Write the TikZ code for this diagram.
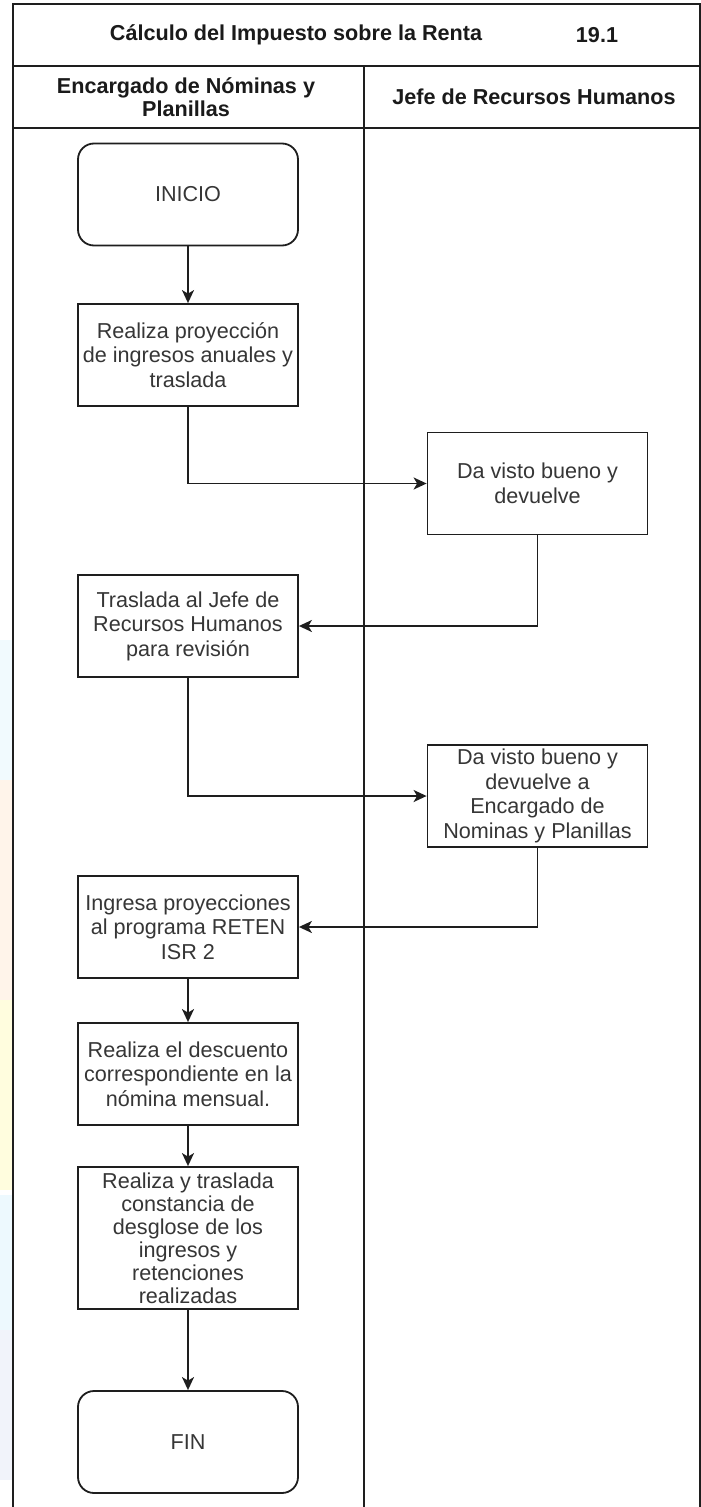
\documentclass[tikz,border=0pt]{standalone}
\usepackage{fontspec}
\setmainfont{Liberation Sans}
\usetikzlibrary{arrows.meta}
\definecolor{linec}{HTML}{1E1E1E}
\definecolor{textc}{HTML}{363636}
\definecolor{headc}{HTML}{1A1A1A}
\tikzset{
  stepbox/.style={draw=linec, line width=1.8pt, minimum width=220pt, minimum height=102pt,
    inner sep=0pt, align=center, text=textc, font=\fontsize{21.6}{24.5}\selectfont},
  termbox/.style={stepbox, rounded corners=16pt},
  flow/.style={draw=linec, line width=1.8pt, -{Stealth[length=13pt,width=12pt,inset=3.5pt]}},
  lane/.style={draw=linec, line width=2pt},
  headtext/.style={font=\fontsize{21.6}{23}\selectfont\bfseries, text=headc, align=center},
}
\begin{document}
\begin{tikzpicture}[x=1pt,y=-1pt]
\useasboundingbox (0,0) rectangle (701,1507);
\fill[white] (0,0) rectangle (701,1507);

% faint coloured edge of the background logo, left of the frame
\fill[cyan!15, opacity=0.35] (0,640) rectangle (12,780);
\fill[orange!20, opacity=0.4] (0,780) rectangle (12,1000);
\fill[yellow!25, opacity=0.5] (0,1000) rectangle (12,1190);
\fill[cyan!15, opacity=0.45] (0,1195) rectangle (12,1480);
\fill[magenta!10, opacity=0.3] (0,1330) rectangle (12,1480);

% pool frame, title row and swimlane headers
\draw[lane] (13,1507) -- (13,4) -- (699.5,4) -- (699.5,1507);
\draw[lane] (13,66) -- (699.5,66);
\draw[lane] (13,128) -- (699.5,128);
\draw[lane] (363.5,66) -- (363.5,1507);

\node[headtext] (title) at (296,35) {Cálculo del Impuesto sobre la Renta};
\node[headtext] (num) at (597,35) {19.1};
\node[headtext] (laneA) at (186,97) {Encargado de Nóminas y\\Planillas};
\node[headtext] (laneB) at (534,97) {Jefe de Recursos Humanos};

% process steps
\node[termbox] (ini) at (188,194.5) {INICIO};
\node[stepbox] (b1) at (188,355) {Realiza proyección\\de ingresos anuales y\\traslada};
\node[stepbox] (b2) at (537.5,483.5) {Da visto bueno y\\devuelve};
\node[stepbox] (b3) at (188,626) {Traslada al Jefe de\\Recursos Humanos\\para revisión};
\node[stepbox] (b4) at (537.5,796) {Da visto bueno y\\devuelve a\\Encargado de\\Nominas y Planillas};
\node[stepbox] (b5) at (188,927) {Ingresa proyecciones\\al programa RETEN\\ISR 2};
\node[stepbox] (b6) at (188,1074) {Realiza el descuento\\correspondiente en la\\nómina mensual.};
\node[stepbox, minimum height=142pt, font=\fontsize{21.6}{23}\selectfont] (b7) at (188,1238)
  {Realiza y traslada\\constancia de\\desglose de los\\ingresos y\\retenciones\\realizadas};
\node[termbox] (fin) at (188,1442) {FIN};

% connectors
\draw[flow] (ini) -- (b1);
\draw[flow] (b1.south) |- (b2.west);
\draw[flow] (b2.south) |- (b3.east);
\draw[flow] (b3.south) |- (b4.west);
\draw[flow] (b4.south) |- (b5.east);
\draw[flow] (b5) -- (b6);
\draw[flow] (b6) -- (b7);
\draw[flow] (b7) -- (fin);
\end{tikzpicture}
\end{document}
